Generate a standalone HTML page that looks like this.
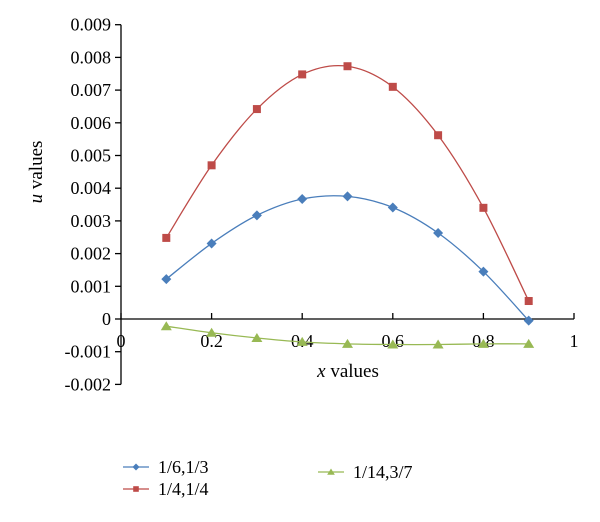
<!DOCTYPE html>
<html><head><meta charset="utf-8">
<style>
html,body{margin:0;padding:0;background:#fff;}
svg{display:block;font-family:"Liberation Serif",serif;}
</style></head>
<body>
<svg id="chart" width="600" height="522">
<g id="axes"></g>
<g id="series"></g>
<text transform="translate(42,172) rotate(-90)" text-anchor="middle" font-size="19"><tspan font-style="italic">u</tspan> values</text>
<text x="348" y="377" text-anchor="middle" font-size="19"><tspan font-style="italic">x</tspan> values</text>
<g id="legend"></g>
</svg>
<script>
const xs = [0.1,0.2,0.3,0.4,0.5,0.6,0.7,0.8,0.9];
const blueVals = [0.00122,0.00231,0.00317,0.00367,0.00375,0.00341,0.00263,0.00145,-0.00005];
const redVals = [0.00248,0.0047,0.00642,0.00748,0.00773,0.0071,0.00562,0.0034,0.00055];
const greenVals = [-0.00022,-0.00042,-0.00058,-0.0007,-0.00076,-0.00078,-0.00078,-0.00076,-0.00076];
const yTicks = [0.009,0.008,0.007,0.006,0.005,0.004,0.003,0.002,0.001,0,-0.001,-0.002];
const yTickLabels = ["0.009","0.008","0.007","0.006","0.005","0.004","0.003","0.002","0.001","0","-0.001","-0.002"];
const xTicks = [0,0.2,0.4,0.6,0.8,1];
const xTickLabels = ["0","0.2","0.4","0.6","0.8","1"];
const seriesNames = ["1/6,1/3","1/4,1/4","1/14,3/7"];

const NS="http://www.w3.org/2000/svg";
const X0=121,X1=574,Y0=319,PER=32.7;
function sx(v){return X0+(X1-X0)*v;}
function sy(v){return Y0-v/0.001*PER;}
function mk(tag,attrs,parent){const e=document.createElementNS(NS,tag);for(const k in attrs)e.setAttribute(k,attrs[k]);parent.appendChild(e);return e;}
const axes=document.getElementById('axes');
let e=mk('line',{x1:X0,y1:sy(0.009),x2:X0,y2:sy(-0.002),stroke:'#000','stroke-width':1.3},axes);


e=mk('line',{x1:X0,y1:Y0,x2:X1,y2:Y0,stroke:'#000','stroke-width':1.3},axes);


yTicks.forEach((t,i)=>{
  mk('line',{x1:X0-6,y1:sy(t),x2:X0,y2:sy(t),stroke:'#000','stroke-width':1.3},axes);
  const tx=mk('text',{x:X0-10,y:sy(t)+6,'text-anchor':'end','font-size':18},axes);
  tx.textContent=yTickLabels[i];
  
  
});
xTicks.forEach((t,i)=>{
  mk('line',{x1:sx(t),y1:Y0-6,x2:sx(t),y2:Y0,stroke:'#000','stroke-width':1.3},axes);
  const tx=mk('text',{x:sx(t),y:Y0+28,'text-anchor':'middle','font-size':18},axes);
  tx.textContent=xTickLabels[i];
  
  
});
function smooth(pts){
  let d='M'+pts[0][0]+','+pts[0][1];
  for(let i=0;i<pts.length-1;i++){
    const p0=pts[Math.max(0,i-1)],p1=pts[i],p2=pts[i+1],p3=pts[Math.min(pts.length-1,i+2)];
    const c1=[p1[0]+(p2[0]-p0[0])/6,p1[1]+(p2[1]-p0[1])/6];
    const c2=[p2[0]-(p3[0]-p1[0])/6,p2[1]-(p3[1]-p1[1])/6];
    d+=' C'+c1+' '+c2+' '+p2;
  }
  return d;
}
function marker(type,x,y,color,parent){
  if(type==='diamond') return mk('polygon',{points:`${x},${y-5} ${x+5},${y} ${x},${y+5} ${x-5},${y}`,fill:color},parent);
  if(type==='square') return mk('rect',{x:x-4,y:y-4,width:8,height:8,fill:color},parent);
  return mk('polygon',{points:`${x},${y-5} ${x+5.5},${y+4} ${x-5.5},${y+4}`,fill:color},parent);
}
const colors=['#4a7ebb','#be4b48','#98b954'];
const types=['diamond','square','triangle'];
const ser=document.getElementById('series');
[blueVals,redVals,greenVals].forEach((vals,si)=>{
  const g=mk('g',{},ser);
  
  
  const pts=xs.map((x,i)=>[sx(x),sy(vals[i])]);
  mk('path',{d:smooth(pts),fill:'none',stroke:colors[si],'stroke-width':1.3},g);
  pts.forEach(p=>{
    const m=marker(types[si],p[0],p[1],colors[si],g);
    
    
  });
});
const leg=document.getElementById('legend');
const legPos=[[123,467],[123,489],[318,472]];
seriesNames.forEach((n,i)=>{
  const g=mk('g',{},leg);
  
  
  const [lx,ly]=legPos[i];
  mk('line',{x1:lx,y1:ly,x2:lx+26,y2:ly,stroke:colors[i],'stroke-width':1.3},g);
  marker(types[i],lx+13,ly,colors[i],g).setAttribute('transform',`translate(${lx+13},${ly}) scale(0.7) translate(${-(lx+13)},${-ly})`);
  const t=mk('text',{x:lx+35,y:ly+6,'font-size':18},g);
  t.textContent=n;
});
</script>
</body></html>
